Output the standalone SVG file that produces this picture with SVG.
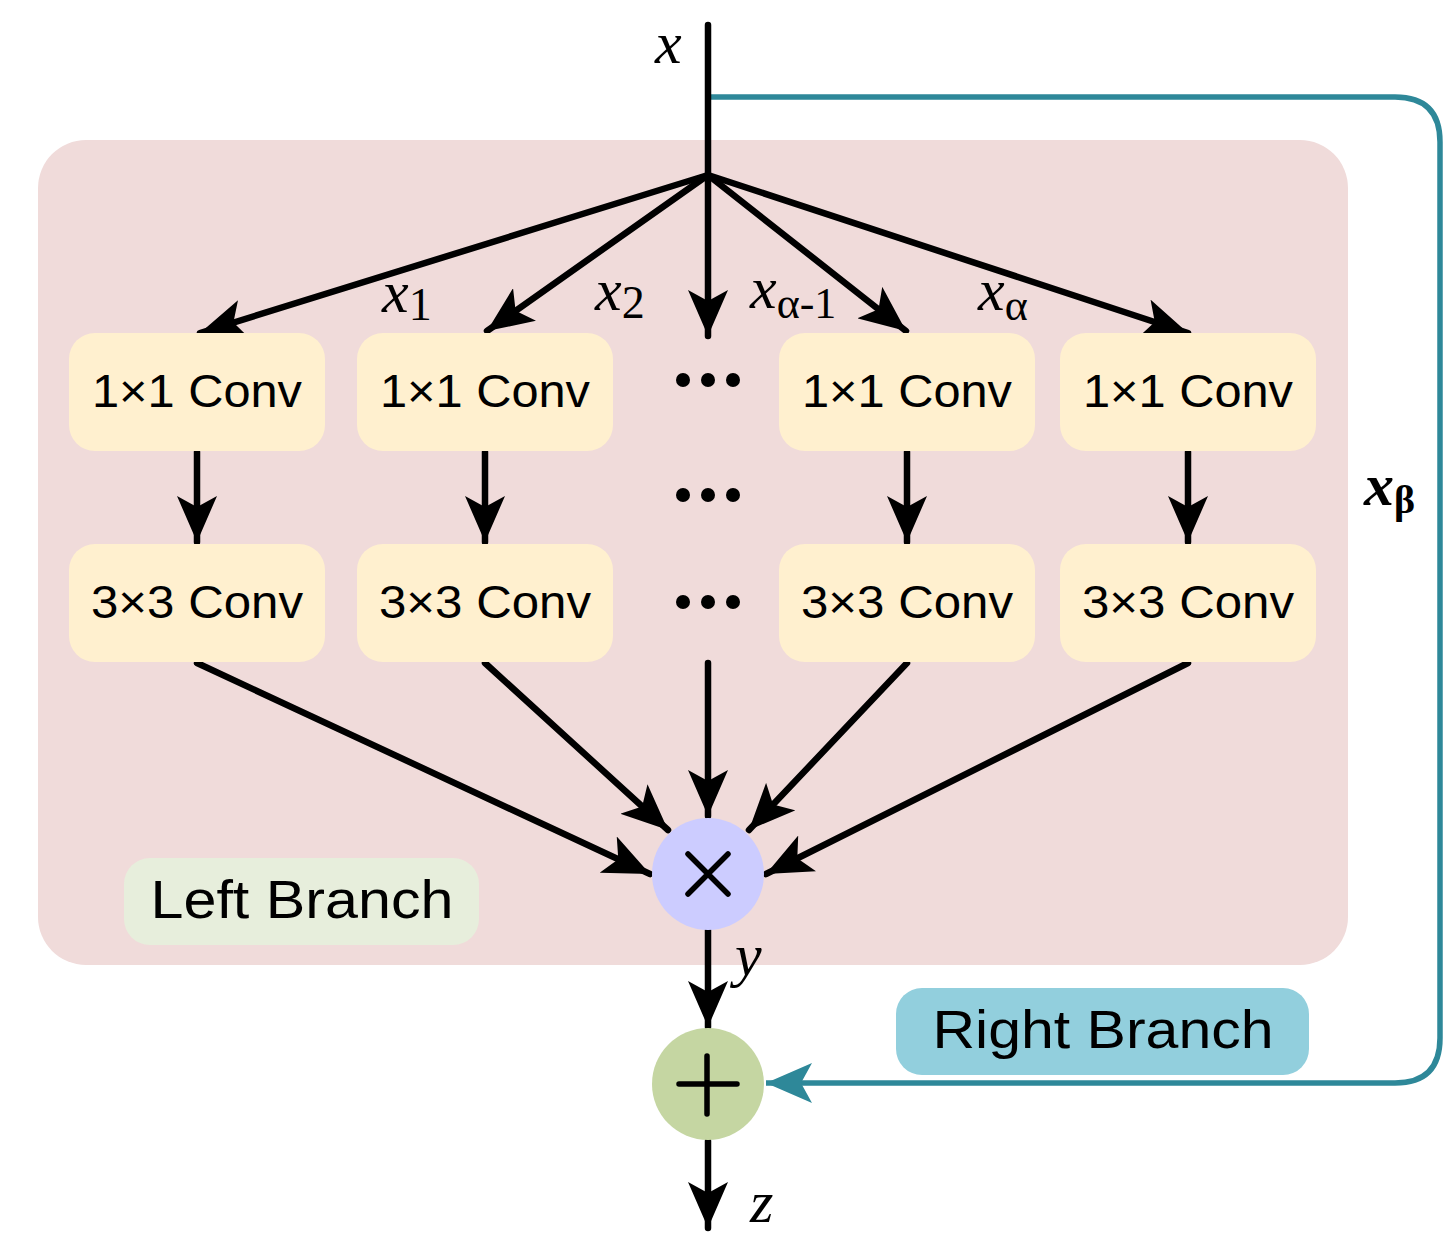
<svg xmlns="http://www.w3.org/2000/svg" width="1454" height="1241" viewBox="0 0 1454 1241">
<style>
.box{fill:#fff0cf}
.lbl{font-family:"Liberation Sans",Arial,sans-serif;font-size:46px;fill:#000;text-anchor:middle}
.m{font-family:"Liberation Serif","Times New Roman",serif;font-style:italic;fill:#000}
.s{font-family:"Liberation Serif","Times New Roman",serif;fill:#000}
.ln{stroke:#000;stroke-width:6.5;fill:none;stroke-linecap:round}
.dot{fill:#000}
</style>
<defs>
<marker id="ab" viewBox="0 0 46 40" refX="46" refY="20" markerWidth="46" markerHeight="40" markerUnits="userSpaceOnUse" orient="auto">
<path d="M0,0 L46,20 L0,40 L11,20 Z" fill="#000"/>
</marker>
<marker id="at" viewBox="0 0 46 40" refX="46" refY="20" markerWidth="46" markerHeight="40" markerUnits="userSpaceOnUse" orient="auto">
<path d="M0,0 L46,20 L0,40 L11,20 Z" fill="#2e8899"/>
</marker>
</defs>
<rect width="1454" height="1241" fill="#fff"/>
<rect id="left-panel" x="38" y="140" width="1310" height="825" rx="48" fill="#f0dbda"/>
<g id="conn">
<path d="M708,97 H1395 Q1440,97 1440,142 V1038 Q1440,1083 1395,1083 H766" stroke="#2e8899" stroke-width="5.5" fill="none" marker-end="url(#at)"/>
<line class="ln" x1="708" y1="25" x2="708" y2="176"/>
<line class="ln" x1="708" y1="175" x2="200" y2="333" marker-end="url(#ab)"/>
<line class="ln" x1="708" y1="175" x2="487" y2="331" marker-end="url(#ab)"/>
<line class="ln" x1="708" y1="175" x2="708" y2="336" marker-end="url(#ab)"/>
<line class="ln" x1="708" y1="175" x2="906" y2="331" marker-end="url(#ab)"/>
<line class="ln" x1="708" y1="175" x2="1188" y2="333" marker-end="url(#ab)"/>
<line class="ln" x1="197" y1="452" x2="197" y2="542" marker-end="url(#ab)"/>
<line class="ln" x1="485" y1="452" x2="485" y2="542" marker-end="url(#ab)"/>
<line class="ln" x1="907" y1="452" x2="907" y2="542" marker-end="url(#ab)"/>
<line class="ln" x1="1188" y1="452" x2="1188" y2="542" marker-end="url(#ab)"/>
<line class="ln" x1="197" y1="663" x2="650" y2="874" marker-end="url(#ab)"/>
<line class="ln" x1="485" y1="663" x2="668" y2="830" marker-end="url(#ab)"/>
<line class="ln" x1="708" y1="663" x2="708" y2="816" marker-end="url(#ab)"/>
<line class="ln" x1="907" y1="663" x2="749" y2="830" marker-end="url(#ab)"/>
<line class="ln" x1="1188" y1="663" x2="766" y2="874" marker-end="url(#ab)"/>
<line class="ln" x1="708" y1="930" x2="708" y2="1027" marker-end="url(#ab)"/>
<line class="ln" x1="708" y1="1141" x2="708" y2="1228" marker-end="url(#ab)"/>
</g>
<g id="c1a"><rect class="box" x="69" y="333" width="256" height="118" rx="26"/><text class="lbl" x="197" y="407" textLength="210" lengthAdjust="spacingAndGlyphs">1×1 Conv</text></g>
<g id="c2a"><rect class="box" x="357" y="333" width="256" height="118" rx="26"/><text class="lbl" x="485" y="407" textLength="210" lengthAdjust="spacingAndGlyphs">1×1 Conv</text></g>
<g id="c3a"><rect class="box" x="779" y="333" width="256" height="118" rx="26"/><text class="lbl" x="907" y="407" textLength="210" lengthAdjust="spacingAndGlyphs">1×1 Conv</text></g>
<g id="c4a"><rect class="box" x="1060" y="333" width="256" height="118" rx="26"/><text class="lbl" x="1188" y="407" textLength="210" lengthAdjust="spacingAndGlyphs">1×1 Conv</text></g>
<g id="c1b"><rect class="box" x="69" y="544" width="256" height="118" rx="26"/><text class="lbl" x="197" y="618" textLength="212" lengthAdjust="spacingAndGlyphs">3×3 Conv</text></g>
<g id="c2b"><rect class="box" x="357" y="544" width="256" height="118" rx="26"/><text class="lbl" x="485" y="618" textLength="212" lengthAdjust="spacingAndGlyphs">3×3 Conv</text></g>
<g id="c3b"><rect class="box" x="779" y="544" width="256" height="118" rx="26"/><text class="lbl" x="907" y="618" textLength="212" lengthAdjust="spacingAndGlyphs">3×3 Conv</text></g>
<g id="c4b"><rect class="box" x="1060" y="544" width="256" height="118" rx="26"/><text class="lbl" x="1188" y="618" textLength="212" lengthAdjust="spacingAndGlyphs">3×3 Conv</text></g>
<g id="dots">
<circle class="dot" cx="683" cy="380" r="7"/><circle class="dot" cx="708" cy="380" r="7"/><circle class="dot" cx="733" cy="380" r="7"/>
<circle class="dot" cx="683" cy="495" r="7"/><circle class="dot" cx="708" cy="495" r="7"/><circle class="dot" cx="733" cy="495" r="7"/>
<circle class="dot" cx="683" cy="602" r="7"/><circle class="dot" cx="708" cy="602" r="7"/><circle class="dot" cx="733" cy="602" r="7"/>
</g>
<g id="mul"><circle cx="708" cy="874" r="56" fill="#ccccff"/><path d="M688,854 L728,894 M728,854 L688,894" stroke="#000" stroke-width="5.5" stroke-linecap="round"/></g>
<g id="add"><circle cx="708" cy="1084" r="56" fill="#c5d6a2"/><path d="M679,1084 H737 M707,1056 V1114" stroke="#000" stroke-width="5.5" stroke-linecap="round"/></g>
<g id="left-branch"><rect x="124" y="858" width="355" height="87" rx="26" fill="#e7eedc"/><text class="lbl" x="302" y="918" style="font-size:54px" textLength="303" lengthAdjust="spacingAndGlyphs">Left Branch</text></g>
<g id="right-branch"><rect x="896" y="988" width="413" height="87" rx="26" fill="#92cfdd"/><text class="lbl" x="1103" y="1048" style="font-size:54px" textLength="341" lengthAdjust="spacingAndGlyphs">Right Branch</text></g>
<g id="labels">
<text class="m" x="655" y="63" font-size="60">x</text>
<text class="m" x="382" y="312" font-size="60">x<tspan class="s" font-style="normal" font-size="46" dy="8">1</tspan></text>
<text class="m" x="595" y="310" font-size="60">x<tspan class="s" font-style="normal" font-size="46" dy="8">2</tspan></text>
<text class="m" x="750" y="308" font-size="60">x<tspan class="s" font-style="normal" font-size="44" dy="10">α-1</tspan></text>
<text class="m" x="978" y="310" font-size="60">x<tspan class="s" font-style="normal" font-size="44" dy="10">α</tspan></text>
<text class="m" x="1364" y="505" font-size="60" font-weight="bold">x<tspan class="s" font-style="normal" font-size="40" dy="8">β</tspan></text>
<text class="m" x="735" y="975" font-size="60">y</text>
<text class="m" x="750" y="1222" font-size="60">z</text>
</g>
</svg>
